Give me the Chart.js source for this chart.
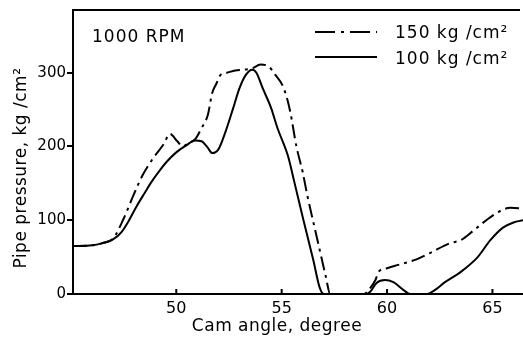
<!DOCTYPE html>
<html>
<head>
<meta charset="utf-8">
<script src="https://cdn.jsdelivr.net/npm/chart.js@4"></script>
<style>
  html, body { margin: 0; padding: 0; background: #fff; }
  #wrap { width: 523px; height: 337px; position: relative; }
</style>
</head>
<body>
<div id="wrap"><canvas id="chart"></canvas></div>
<script>
// 150 kg/cm2 (dash-dot)
const angle150 = [45.1, 46.0, 46.5, 47.0, 47.5, 48.0, 48.4, 48.9, 49.4, 49.7, 50.05, 50.3, 50.6, 50.9, 51.2, 51.5, 51.7, 51.9, 52.1, 52.4, 52.8, 53.2, 53.6, 54.0, 54.4, 54.7, 55.1, 55.4, 55.7, 56.0, 56.2, 56.7, 57.1, 57.3, 58.0, 58.9, 59.2, 59.45, 59.6, 60.0, 60.6, 61.4, 62.0, 63.0, 63.5, 64.1, 64.8, 65.4, 65.85, 66.45];
const pressure150 = [65, 66, 69, 75, 102, 136, 161, 184, 203, 217, 207, 200, 205, 210, 225, 243, 272, 285, 297, 300, 303, 304, 306, 311, 308, 297, 279, 248, 200, 165, 136, 73, 23, 0, 0, 0, 8, 19, 30, 35, 40, 47, 55, 69, 73, 86, 102, 113, 117, 116];

// 100 kg/cm2 (solid)
const angle100 = [45.1, 46.0, 46.5, 47.0, 47.4, 47.7, 48.1, 48.5, 48.8, 49.2, 49.6, 50.0, 50.4, 50.9, 51.2, 51.5, 51.7, 52.0, 52.3, 52.7, 53.0, 53.3, 53.6, 53.8, 54.1, 54.5, 54.8, 55.3, 55.6, 56.0, 56.5, 56.8, 57.0, 58.0, 59.0, 59.2, 59.5, 59.9, 60.3, 60.8, 61.1, 61.9, 62.3, 62.7, 63.5, 64.3, 64.9, 65.5, 66.0, 66.45];
const pressure100 = [65, 66, 69, 74, 84, 97, 118, 137, 151, 167, 181, 192, 200, 208, 207, 198, 191, 196, 217, 252, 279, 297, 304, 300, 279, 252, 225, 187, 152, 104, 46, 9, 0, 0, 0, 3, 15, 19, 16, 5, 0, 0, 6, 15, 30, 50, 73, 90, 97, 100];

const xTicks = [50, 55, 60, 65];
const yTicks = [0, 100, 200, 300];
const xRange = [45.1, 66.45];
const yRange = [0, 385];

const seriesLabels = ['150 kg /cm²', '100 kg /cm²'];
const dashDot = [14, 5, 3, 5];
const FONT = '"DejaVu Sans", sans-serif';

const toPoints = (xs, ys) => xs.map((x, i) => ({ x, y: ys[i] }));

const decorations = {
  id: 'decorations',
  afterDraw(chart) {
    const { ctx, chartArea, scales } = chart;
    ctx.save();
    ctx.strokeStyle = '#000';
    ctx.fillStyle = '#000';
    ctx.lineWidth = 2;

    // top frame line
    ctx.beginPath();
    ctx.moveTo(chartArea.left, chartArea.top);
    ctx.lineTo(chartArea.right - 3, chartArea.top);
    ctx.stroke();

    // small inward ticks on the x axis
    xTicks.forEach(v => {
      const px = scales.x.getPixelForValue(v);
      ctx.beginPath();
      ctx.moveTo(px, chartArea.bottom);
      ctx.lineTo(px, chartArea.bottom - 5);
      ctx.stroke();
    });

    // annotation
    ctx.font = '17px ' + FONT;
    ctx.letterSpacing = '1px';
    ctx.textBaseline = 'alphabetic';
    ctx.textAlign = 'left';
    ctx.fillText('1000 RPM', 92, 42);

    // legend
    ctx.setLineDash([20, 6, 3, 6]);
    ctx.beginPath();
    ctx.moveTo(315, 32);
    ctx.lineTo(377, 32);
    ctx.stroke();
    ctx.setLineDash([]);
    ctx.beginPath();
    ctx.moveTo(315, 57);
    ctx.lineTo(377, 57);
    ctx.stroke();
    ctx.fillText(seriesLabels[0], 395, 38);
    ctx.fillText(seriesLabels[1], 395, 64);

    // axis titles
    ctx.letterSpacing = '0.5px';
    ctx.textAlign = 'center';
    ctx.textBaseline = 'middle';
    ctx.fillText('Cam angle, degree', 277, 327);
    ctx.translate(22, 168);
    ctx.rotate(-Math.PI / 2);
    ctx.fillText('Pipe pressure, kg /cm²', 0, 0);
    ctx.restore();
  }
};

new Chart(document.getElementById('chart'), {
  type: 'line',
  data: {
    datasets: [
      {
        label: seriesLabels[0],
        data: toPoints(angle150, pressure150),
        borderColor: '#000',
        borderWidth: 2,
        borderDash: dashDot,
        pointRadius: 0,
        cubicInterpolationMode: 'monotone',
        fill: false
      },
      {
        label: seriesLabels[1],
        data: toPoints(angle100, pressure100),
        borderColor: '#000',
        borderWidth: 2,
        pointRadius: 0,
        cubicInterpolationMode: 'monotone',
        fill: false
      }
    ]
  },
  options: {
    responsive: true,
    maintainAspectRatio: false,
    animation: false,
    layout: { padding: { top: 7, right: 0, left: 0, bottom: 0 } },
    plugins: { legend: { display: false }, tooltip: { enabled: false } },
    scales: {
      x: {
        type: 'linear',
        min: xRange[0],
        max: xRange[1],
        afterFit: s => { s.height = 43; },
        afterBuildTicks: s => { s.ticks = xTicks.map(v => ({ value: v })); },
        grid: { drawOnChartArea: false, drawTicks: false },
        border: { color: '#000', width: 2 },
        ticks: { color: '#000', font: { family: FONT, size: 16 }, padding: 5, maxRotation: 0 }
      },
      y: {
        min: yRange[0],
        max: yRange[1],
        afterFit: s => { s.width = 73; },
        afterBuildTicks: s => { s.ticks = yTicks.map(v => ({ value: v })); },
        grid: { drawOnChartArea: false, drawTicks: true, tickLength: 6, color: '#000', lineWidth: 2 },
        border: { color: '#000', width: 2 },
        ticks: { color: '#000', font: { family: FONT, size: 15 }, padding: 1 }
      }
    }
  },
  plugins: [decorations]
});
</script>
</body>
</html>
